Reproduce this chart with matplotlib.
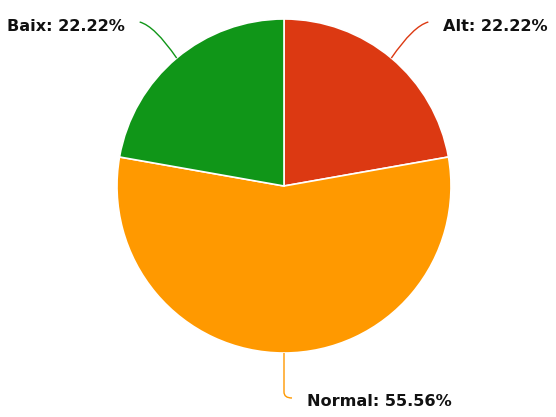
import matplotlib.pyplot as plt
import numpy as np
from matplotlib.path import Path
from matplotlib.patches import PathPatch

# dades
labels = ['Alt', 'Normal', 'Baix']
values = [22.22, 55.56, 22.22]
colors = ['#DC3912', '#FF9900', '#109618']

W, H = 556, 417
cx, cy, r = 284, H - 186, 167

fig = plt.figure(figsize=(W / 100, H / 100), dpi=100)
ax = fig.add_axes([0, 0, 1, 1])

wedges, _ = ax.pie(values, colors=colors, startangle=90, counterclock=False,
                   center=(cx, cy), radius=r, frame=True,
                   wedgeprops=dict(edgecolor='white', linewidth=1.2))
ax.set_xlim(0, W)
ax.set_ylim(0, H)
ax.set_aspect('equal')
ax.axis('off')

# linies guia i etiquetes
fs = 11.6
for w, lab, val, col in zip(wedges, labels, values, colors):
    mid = np.deg2rad((w.theta1 + w.theta2) / 2)
    x0, y0 = cx + r * np.cos(mid), cy + r * np.sin(mid)
    txt = f'{lab}: {val:.2f}%'
    if lab == 'Normal':
        pts = [(x0, y0), (x0, H - 392), (x0, H - 398), (x0 + 8, H - 398)]
        codes = [Path.MOVETO, Path.LINETO, Path.CURVE3, Path.CURVE3]
        ax.text(x0 + 23, H - 402, txt, fontsize=fs, fontweight='bold',
                color='#111111', ha='left', va='center')
    else:
        sgn = 1 if np.cos(mid) > 0 else -1
        x1, y1 = x0 + sgn * 37, H - 22
        pts = [(x0, y0), (x0 + sgn * 22, y1 - 4), (x1, y1)]
        codes = [Path.MOVETO, Path.CURVE3, Path.CURVE3]
        ax.text(x1 + sgn * 15, H - 26, txt, fontsize=fs, fontweight='bold',
                color='#111111', ha='left' if sgn > 0 else 'right', va='center')
    ax.add_patch(PathPatch(Path(pts, codes), fc='none', ec=col, lw=1))

fig.savefig('out.png', dpi=100, facecolor='white')
